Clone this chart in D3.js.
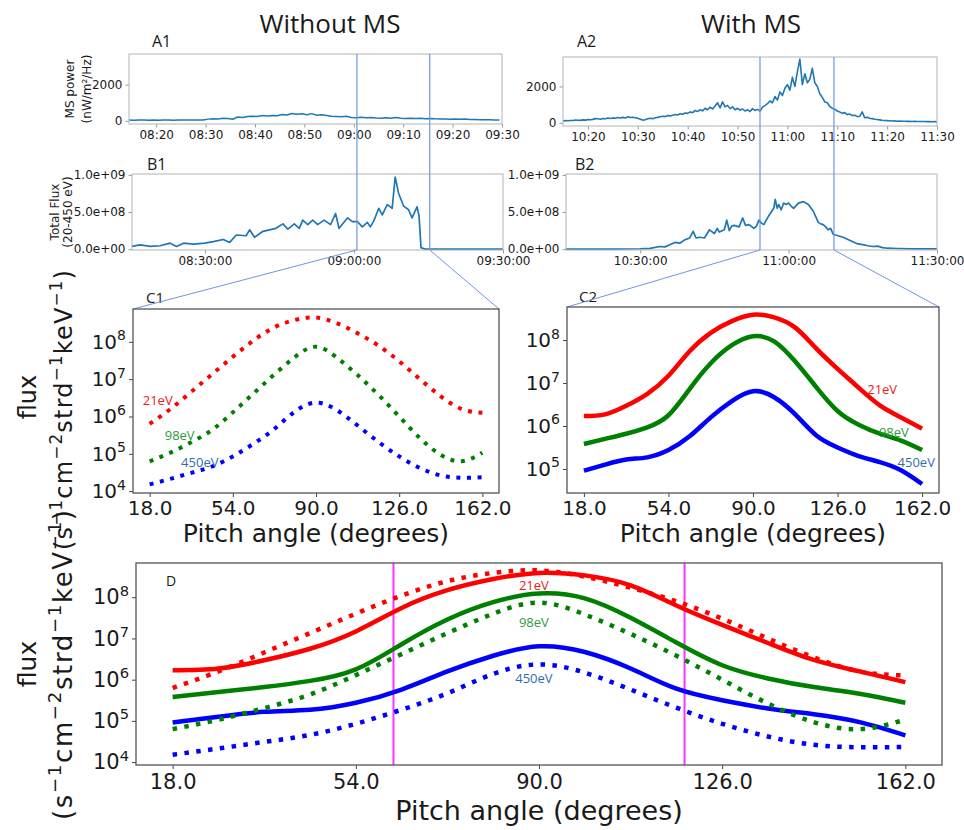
<!DOCTYPE html>
<html>
<head>
<meta charset="utf-8">
<script src="https://cdn.jsdelivr.net/npm/d3@7"></script>
<style>
  body { margin: 0; background: #fff; }
  svg text { font-family: "DejaVu Sans", sans-serif; fill: #1a1a1a; }
</style>
</head>
<body>
<div id="fig"></div>
<script>
// ---- data ----
const angles = [18, 27, 36, 45, 54, 63, 72, 81, 90, 99, 108, 117, 126, 135, 144, 153, 162];

// log10(flux), without MS (dotted)
const logWithout21  = [5.80, 6.20, 6.66, 7.13, 7.60, 8.04, 8.39, 8.59, 8.65, 8.50, 8.23, 7.90, 7.48, 7.00, 6.54, 6.20, 6.10];
const logWithout98  = [4.80, 5.03, 5.31, 5.64, 6.11, 6.62, 7.13, 7.60, 7.87, 7.58, 7.11, 6.58, 6.00, 5.42, 4.97, 4.80, 5.03];
const logWithout450 = [4.18, 4.33, 4.49, 4.66, 4.93, 5.27, 5.67, 6.14, 6.37, 6.17, 5.76, 5.32, 4.93, 4.62, 4.42, 4.36, 4.37];
// log10(flux), with MS (solid)
const logWith21  = [6.23, 6.27, 6.47, 6.75, 7.17, 7.74, 8.17, 8.44, 8.59, 8.53, 8.29, 7.80, 7.33, 6.89, 6.48, 6.20, 5.94];
const logWith98  = [5.58, 5.70, 5.82, 5.97, 6.25, 6.86, 7.46, 7.88, 8.09, 7.97, 7.50, 6.90, 6.35, 6.03, 5.82, 5.66, 5.44];
const logWith450 = [4.96, 5.10, 5.22, 5.27, 5.44, 5.76, 6.20, 6.58, 6.81, 6.67, 6.27, 5.78, 5.50, 5.30, 5.16, 4.97, 4.65];

const energyLabels = ["21eV", "98eV", "450eV"];
const lineColors = ["#ff0000", "#008000", "#0000ff"];
const textColors = ["#e8201c", "#2e9a3c", "#2f6db3"];

// label anchors (pitch angle, log10 flux)
const labelAngleC1 = [21.5, 31, 39.7], labelLogC1 = [6.42, 5.49, 4.76];
const labelAngleC2 = [145, 150, 159.5], labelLogC2 = [6.86, 5.84, 5.14];
const labelAngleD  = [89, 89, 89],      labelLogD  = [8.29, 7.39, 6.03];

// MS power, nW/m^2/Hz
const a1Start = "08:14:30", a1Step = 60;
const a1Power = [42,38,45,40,36,44,39,47,41,37,45,40,48,42,46,50,
  95,120,105,140,125,90,210,190,240,
  260,235,290,270,300,280,
  350,320,410,370,390,340,400,
  310,340,300,260,240,220,250,
  190,175,200,165,180,160,150,170,140,190,145,130,150,125,140,120,135,
  110,95,105,90,100,85,95,80,70,
  60,55,58,50,52];

const a2Start = "10:15:00", a2Step = 30;
const a2Power = [100,120,110,130,125,150,140,135,160,150,175,165,190,230,220,200,240,225,260,240,270,255,290,260,300,270,330,290,310,280,250,
  200,150,170,220,250,230,280,300,330,360,340,400,380,420,460,430,500,470,540,520,
  600,560,680,620,720,660,800,720,860,760,920,1100,820,1150,880,960,780,880,720,800,
  700,760,650,720,620,780,680,740,640,860,950,1050,1200,1100,1450,1250,1700,1500,1900,2100,
  1800,2500,2000,2800,3500,2100,2700,2200,2400,3000,2200,2000,1600,1400,1150,1100,900,800,750,650,
  600,520,560,450,480,400,420,340,360,600,280,300,250,230,200,180,160,140,130,120,
  110,100,105,90,95,85,90,80,85,75,80,70,75,70,72,65,70,60,65,60];

// Total flux (20-450 eV); minutes after 08:00 / 10:00
const b1Min = [15.3,17,19,21,23,24.3,25.7,27.7,30,31.7,33.7,35,36.3,38.3,39,40,41.7,43,44.3,45.7,46.7,48,49,49.7,50.7,51.7,52.7,54,55.3,56.3,57,58.7,59.7,60.7,61.7,62.7,63.3,64,65,65.7,66.7,67.7,68.3,69,70,71,71.7,72.7,73.1,73.5,74.3,90];
const b1Flux = [0.036,0.058,0.036,0.045,0.08,0.036,0.08,0.067,0.08,0.10,0.13,0.09,0.19,0.18,0.26,0.16,0.24,0.26,0.28,0.34,0.27,0.34,0.28,0.39,0.33,0.39,0.33,0.39,0.33,0.48,0.28,0.42,0.37,0.37,0.30,0.36,0.30,0.38,0.55,0.46,0.60,0.55,0.97,0.75,0.58,0.53,0.42,0.57,0.45,0.02,0.0,0.0].map(v => v * 1e9);
const b2Min = [15,20,25,30,32,34,35,36,37,38,39,40,40.7,41.3,42,43,44,45,45.6,46,47,47.5,48,48.5,49,50,50.7,51.3,52,53,53.5,54,54.5,55,56,57,57.3,57.7,58,58.5,59,59.5,60,60.5,61,62,63,63.5,64,65,66,66.5,67,67.5,68,68.5,69,70,71,72,73,74,75,76,77,78,79,80,82,85,90];
const b2Flux = [0,0,0,0.005,0.01,0.035,0.03,0.06,0.09,0.08,0.125,0.15,0.24,0.15,0.16,0.15,0.26,0.21,0.28,0.23,0.26,0.39,0.25,0.31,0.32,0.30,0.42,0.32,0.33,0.28,0.31,0.39,0.35,0.33,0.45,0.55,0.67,0.55,0.60,0.53,0.62,0.60,0.62,0.58,0.55,0.62,0.64,0.62,0.60,0.51,0.36,0.34,0.33,0.30,0.26,0.28,0.20,0.18,0.16,0.13,0.10,0.07,0.06,0.045,0.035,0.04,0.02,0.012,0.008,0.004,0.002].map(v => v * 1e9);

// zoom windows shown in C1 / C2
const zoomWithout = ["09:00:36", "09:15:15"];
const zoomWith = ["10:54:13", "11:09:10"];
// magenta marks in D
const markAngles = [61.4, 118.6];

// ---- layout ----
const boxA1 = {x0: 129, x1: 502, y0: 54, y1: 124};
const boxA2 = {x0: 563, x1: 937, y0: 57, y1: 126};
const boxB1 = {x0: 132, x1: 503, y0: 174, y1: 250};
const boxB2 = {x0: 566, x1: 937, y0: 174, y1: 250};
const boxC1 = {x0: 133, x1: 499, y0: 309, y1: 493};
const boxC2 = {x0: 567, x1: 939, y0: 307, y1: 493};
const boxD  = {x0: 136, x1: 942, y0: 563, y1: 765};

const svg = d3.select("#fig").append("svg").attr("width", 964).attr("height", 830);
svg.append("rect").attr("width", 964).attr("height", 830).attr("fill", "#fff");

const parseT = d3.timeParse("%H:%M:%S");
const addMin = (base, m) => new Date(parseT(base).getTime() + m * 60000);
const blue = "#1f77b4", zoomBlue = "#7096dc";

function expFmt(d) {
  return d.toExponential(1).replace(/e([+-])(\d)$/, "e$10$2");
}

function frame(box, color, w) {
  svg.append("rect").attr("x", box.x0).attr("y", box.y0)
    .attr("width", box.x1 - box.x0).attr("height", box.y1 - box.y0)
    .attr("fill", "none").attr("stroke", color).attr("stroke-width", w);
}

function styleAxis(g, size, color) {
  g.attr("font-family", "DejaVu Sans").attr("font-size", size);
  g.select(".domain").remove();
  g.selectAll(".tick line").attr("stroke", color);
  g.selectAll(".tick text").attr("fill", "#1a1a1a");
}

function timePanel(box, domain, yDomain, times, values, xticks, xfmt, yticks, yfmt, lw) {
  const x = d3.scaleTime().domain(domain).range([box.x0, box.x1]);
  const y = d3.scaleLinear().domain(yDomain).range([box.y1, box.y0]);
  const line = d3.line().x((d, i) => x(times[i])).y(d => y(d));
  svg.append("path").attr("d", line(values)).attr("fill", "none")
    .attr("stroke", blue).attr("stroke-width", lw).attr("stroke-linejoin", "round");
  const gx = svg.append("g").attr("transform", `translate(0,${box.y1})`)
    .call(d3.axisBottom(x).tickValues(xticks).tickFormat(d3.timeFormat(xfmt)).tickSize(3.5).tickPadding(2.5));
  styleAxis(gx, 12, "#999");
  const gy = svg.append("g").attr("transform", `translate(${box.x0},0)`)
    .call(d3.axisLeft(y).tickValues(yticks).tickFormat(yfmt).tickSize(3.5).tickPadding(3));
  styleAxis(gy, 12, "#999");
  frame(box, "#b4b4b4", 1);
  return x;
}

function rotLabel(cx, cy, size, txt) {
  svg.append("text").attr("transform", `translate(${cx},${cy}) rotate(-90)`)
    .attr("text-anchor", "middle").attr("y", size * 0.36).attr("font-size", size).text(txt);
}

// ---- titles ----
svg.append("text").attr("x", 330).attr("y", 33).attr("text-anchor", "middle")
  .style("font-family", "'Open Sans', sans-serif").attr("font-size", 26).text("Without MS");
svg.append("text").attr("x", 751).attr("y", 33).attr("text-anchor", "middle")
  .style("font-family", "'Open Sans', sans-serif").attr("font-size", 26).text("With MS");

function panelTag(x, y, size, txt) {
  svg.append("text").attr("x", x).attr("y", y).style("font-family", "'Open Sans', sans-serif")
    .attr("font-size", size).text(txt);
}
panelTag(152, 47, 16, "A1"); panelTag(577, 47, 16, "A2");
panelTag(147, 170, 16, "B1"); panelTag(575, 170, 16, "B2");
panelTag(146, 303, 15, "C1"); panelTag(579, 302, 15, "C2");
panelTag(166, 586, 14, "D");

// ---- A panels ----
const a1Times = a1Power.map((d, i) => addMin(a1Start, i * a1Step / 60));
const a2Times = a2Power.map((d, i) => addMin(a2Start, i * a2Step / 60));
const xA1 = timePanel(boxA1, [parseT("08:14:30"), parseT("09:30:00")], [-175, 3700], a1Times, a1Power,
  d3.timeMinute.range(parseT("08:20:00"), parseT("09:30:01"), 10), "%H:%M", [0, 2000], d3.format("d"), 1.5);
const xA2 = timePanel(boxA2, [parseT("10:15:00"), parseT("11:30:00")], [-175, 3620], a2Times, a2Power,
  d3.timeMinute.range(parseT("10:20:00"), parseT("11:30:01"), 10), "%H:%M", [0, 2000], d3.format("d"), 1.6);
rotLabel(70, 89, 12, "MS power");
rotLabel(87, 89, 12, "(nW/m²/Hz)");

// ---- B panels ----
const xB1 = timePanel(boxB1, [parseT("08:15:20"), parseT("09:30:00")], [-0.012e9, 1.012e9],
  b1Min.map(m => addMin("08:00:00", m)), b1Flux,
  d3.timeMinute.range(parseT("08:30:00"), parseT("09:30:01"), 30), "%H:%M:%S", [0, 5e8, 1e9], expFmt, 1.7);
const xB2 = timePanel(boxB2, [parseT("10:15:00"), parseT("11:30:00")], [-0.012e9, 1.012e9],
  b2Min.map(m => addMin("10:00:00", m)), b2Flux,
  d3.timeMinute.range(parseT("10:30:00"), parseT("11:30:01"), 30), "%H:%M:%S", [0, 5e8, 1e9], expFmt, 1.7);
rotLabel(55, 212, 12, "Total Flux");
rotLabel(68, 212, 12, "(20-450 eV)");

// ---- zoom connectors ----
function connectors(xB, win, boxA, boxB, boxC) {
  const xs = win.map(t => xB(parseT(t)));
  xs.forEach((x, i) => {
    svg.append("line").attr("x1", x).attr("x2", x).attr("y1", boxA.y0).attr("y2", boxB.y1)
      .attr("stroke", zoomBlue).attr("stroke-width", 1.2);
    svg.append("line").attr("x1", x).attr("y1", boxB.y1)
      .attr("x2", i === 0 ? boxC.x0 : boxC.x1).attr("y2", boxC.y0)
      .attr("stroke", zoomBlue).attr("stroke-width", 1);
  });
}
connectors(xB1, zoomWithout, boxA1, boxB1, boxC1);
connectors(xB2, zoomWith, boxA2, boxB2, boxC2);

// ---- pitch angle panels ----
function supTicks(g, size) {
  g.selectAll(".tick text").each(function (d) {
    const t = d3.select(this);
    const e = Math.round(Math.log10(d));
    t.text(null);
    t.append("tspan").text("10");
    t.append("tspan").attr("dy", -size * 0.42).attr("font-size", size * 0.7).text(e);
  });
}

function pitchPanel(box, logLim, layers, labels, o) {
  const x = d3.scaleLinear().domain([10.8, 169.2]).range([box.x0, box.x1]);
  const y = d3.scaleLog().domain(logLim.map(v => Math.pow(10, v))).range([box.y1, box.y0]);
  const line = d3.line().x((d, i) => x(angles[i])).y(d => y(Math.pow(10, d)))
    .curve(d3.curveNatural);
  if (o.marks) {
    o.marks.forEach(a => svg.append("line").attr("x1", x(a)).attr("x2", x(a))
      .attr("y1", box.y0).attr("y2", box.y1).attr("stroke", "#ff33ff").attr("stroke-width", 2));
  }
  layers.forEach(L => {
    L.sets.forEach((arr, k) => {
      svg.append("path").attr("d", line(arr)).attr("fill", "none")
        .attr("stroke", lineColors[k]).attr("stroke-width", L.width)
        .attr("stroke-dasharray", L.dash || null).attr("stroke-linecap", "butt");
    });
  });
  labels.ang.forEach((a, k) => {
    svg.append("text").attr("x", x(a)).attr("y", y(Math.pow(10, labels.lg[k])))
      .attr("text-anchor", "middle").attr("dy", "0.35em")
      .style("font-family", "'Open Sans', sans-serif").attr("font-size", 13)
      .style("fill", textColors[k]).text(energyLabels[k]);
  });
  const gx = svg.append("g").attr("transform", `translate(0,${box.y1})`)
    .call(d3.axisBottom(x).tickValues([18, 54, 90, 126, 162]).tickFormat(d3.format(".1f"))
      .tickSize(4).tickPadding(o.xpad));
  styleAxis(gx, o.tick, "#444");
  const yt = [1e4, 1e5, 1e6, 1e7, 1e8].filter(v => Math.log10(v) >= logLim[0] && Math.log10(v) <= logLim[1]);
  const gy = svg.append("g").attr("transform", `translate(${box.x0},0)`)
    .call(d3.axisLeft(y).tickValues(yt).tickSize(4).tickPadding(3));
  styleAxis(gy, o.tick, "#444");
  supTicks(gy, o.tick);
  frame(box, "#555", 1.3);
  svg.append("text").attr("x", (box.x0 + box.x1) / 2).attr("y", o.xlabY).attr("text-anchor", "middle")
    .attr("font-size", o.xlab).text("Pitch angle (degrees)");
}

function fluxLabel(cx1, cy1, cx2, cy2, size1, size2, len) {
  rotLabel(cx1, cy1, size1, "flux");
  const t = svg.append("text").attr("transform", `translate(${cx2},${cy2}) rotate(-90)`)
    .attr("text-anchor", "middle").attr("y", size2 * 0.36).attr("font-size", size2)
    .attr("textLength", len).attr("lengthAdjust", "spacing");
  const parts = [["(s", 0], ["\u22121", 1], ["cm", 0], ["\u22122", 1], ["strd", 0], ["\u22121", 1], ["keV", 0], ["\u22121", 1], [")", 0]];
  let up = false;
  parts.forEach(([s, sup]) => {
    const sp = t.append("tspan").text(s);
    if (sup) { sp.attr("dy", -size2 * 0.42).attr("font-size", size2 * 0.7); up = true; }
    else if (up) { sp.attr("dy", size2 * 0.42); up = false; }
  });
}

pitchPanel(boxC1, [3.95, 8.88], [{sets: [logWithout21, logWithout98, logWithout450], width: 4, dash: "4 6.6"}],
  {ang: labelAngleC1, lg: labelLogC1}, {tick: 20, xpad: 3.5, xlab: 25, xlabY: 542});
pitchPanel(boxC2, [4.44, 8.77], [{sets: [logWith21, logWith98, logWith450], width: 4.5}],
  {ang: labelAngleC2, lg: labelLogC2}, {tick: 20, xpad: 3.5, xlab: 25, xlabY: 542});
pitchPanel(boxD, [3.93, 8.83], [
    {sets: [logWith21, logWith98, logWith450], width: 4.5},
    {sets: [logWithout21, logWithout98, logWithout450], width: 4.5, dash: "4.5 7.4"}],
  {ang: labelAngleD, lg: labelLogD}, {tick: 21, xpad: 5, xlab: 27, xlabY: 820, marks: markAngles});

fluxLabel(27, 397, 63, 410, 24, 24, 280);
fluxLabel(27, 664, 63, 665, 25, 26, 310);
</script>
</body>
</html>
